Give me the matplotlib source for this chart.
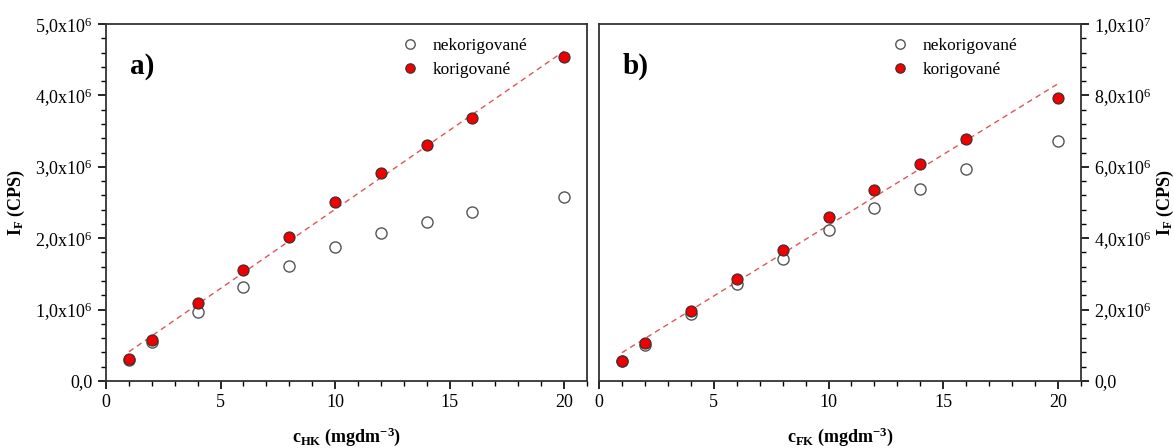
import numpy as np
import matplotlib
matplotlib.use("Agg")
import matplotlib.pyplot as plt
from matplotlib.ticker import MultipleLocator, FuncFormatter

plt.rcParams['font.family'] = ['Liberation Serif', 'DejaVu Serif']
plt.rcParams['mathtext.fontset'] = 'custom'
plt.rcParams['mathtext.rm'] = 'Liberation Serif'
plt.rcParams['mathtext.it'] = 'Liberation Serif:italic'
plt.rcParams['mathtext.bf'] = 'Liberation Serif:bold'

# Data
conc = [1, 2, 4, 6, 8, 10, 12, 14, 16, 20]
a_nekorig = [0.30e6, 0.54e6, 0.97e6, 1.32e6, 1.61e6, 1.87e6, 2.07e6, 2.22e6, 2.36e6, 2.57e6]
a_korig = [0.31e6, 0.58e6, 1.09e6, 1.56e6, 2.01e6, 2.50e6, 2.92e6, 3.30e6, 3.68e6, 4.54e6]
b_nekorig = [0.56e6, 1.02e6, 1.89e6, 2.71e6, 3.42e6, 4.22e6, 4.85e6, 5.39e6, 5.94e6, 6.72e6]
b_korig = [0.56e6, 1.05e6, 1.96e6, 2.87e6, 3.66e6, 4.60e6, 5.36e6, 6.07e6, 6.79e6, 7.93e6]
legend_labels = ['nekorigované', 'korigované']
panel_labels = ['a)', 'b)']
xlabels = [r'$\mathbf{c_{HK}}$ (mgdm$^{\mathbf{-3}}$)', r'$\mathbf{c_{FK}}$ (mgdm$^{\mathbf{-3}}$)']
ylabel = r'$\mathbf{I_F}$ (CPS)'


def fmt(v, pos):
    if abs(v) < 1e-9:
        return '0,0'
    e = int(np.floor(np.log10(abs(v)) + 1e-9))
    m = v / 10 ** e
    return ('%.1f' % m).replace('.', ',') + r'x10$^{%d}$' % e


fig = plt.figure(figsize=(11.74, 4.48), dpi=100)
axa = fig.add_axes([0.0903, 0.1496, 0.4097, 0.7968])
axb = fig.add_axes([0.5102, 0.1496, 0.4106, 0.7968])

datasets = [(axa, a_nekorig, a_korig, 5e6, 1e6, 0.2e6, 0.900),
            (axb, b_nekorig, b_korig, 1e7, 2e6, 0.4e6, 0.892)]

x = np.array(conc, dtype=float)
for i, (ax, nek, kor, ymax, maj, mnr, legx) in enumerate(datasets):
    p = np.polyfit(x, np.array(kor), 1)
    xl = np.array([x.min(), x.max()])
    ax.plot(xl, np.polyval(p, xl), ls=(0, (4, 3)), color='#e05555', lw=1.0, zorder=2)
    ax.plot(conc, nek, 'o', ms=8, mfc='white', mec='#555555', mew=1.0,
            label=legend_labels[0], zorder=3)
    ax.plot(conc, kor, 'o', ms=8, mfc='#ee0000', mec='#333333', mew=0.8,
            label=legend_labels[1], zorder=4)
    ax.set_xlim(0, 21)
    ax.set_ylim(0, ymax)
    ax.xaxis.set_major_locator(MultipleLocator(5))
    ax.xaxis.set_minor_locator(MultipleLocator(1))
    ax.yaxis.set_major_locator(MultipleLocator(maj))
    ax.yaxis.set_minor_locator(MultipleLocator(mnr))
    ax.yaxis.set_major_formatter(FuncFormatter(fmt))
    ax.tick_params(which='major', length=6, width=1.2, labelsize=13, direction='out')
    ax.tick_params(which='minor', length=3.5, width=1.0, direction='out')
    for s in ax.spines.values():
        s.set_linewidth(1.3)
        s.set_color('#333333')
    ax.set_xlabel(xlabels[i], fontsize=13, fontweight='bold', labelpad=10)
    ax.text(0.05, 0.86, panel_labels[i], transform=ax.transAxes, fontsize=21,
            fontweight='bold')
    ax.legend(loc='upper right', bbox_to_anchor=(legx, 0.992), frameon=False,
              fontsize=12.5, handletextpad=0.7, labelspacing=0.45,
              borderaxespad=0.25, handlelength=1.2, markerscale=0.85)

axa.set_ylabel(ylabel, fontsize=13, fontweight='bold', labelpad=6)
axb.yaxis.tick_right()
axb.yaxis.set_label_position('right')
axb.set_ylabel(ylabel, fontsize=13, fontweight='bold', labelpad=2)

fig.savefig('out.png', dpi=100)
